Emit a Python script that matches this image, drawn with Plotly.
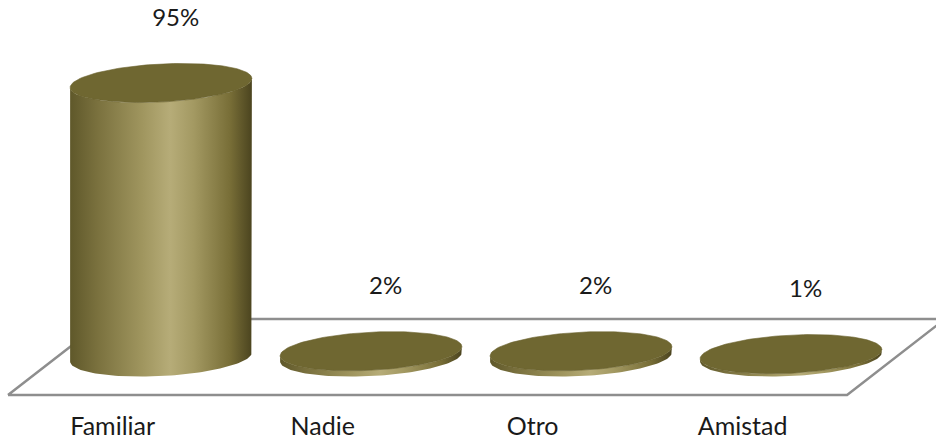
import numpy as np
import plotly.graph_objects as go

# Data
categories = ["Familiar", "Nadie", "Otro", "Amistad"]
values = [95, 2, 2, 1]
value_labels = ["95%", "2%", "2%", "1%"]

# Plot geometry (pixels per axis unit) used to keep the ellipses round on screen
W, H = 936, 440
PX_X = 210.0       # pixels per category step
PX_Y = 2.884       # pixels per percent
X0_PX = 161.0      # pixel position of the first category centre
Y0_PX = 357.0      # pixel position of the zero level (from top)

RX, RY = 91.0, 19.0            # cylinder ellipse radii in pixels
TILT = np.deg2rad(3.0)         # slight perspective tilt of the ellipses

BODY_SCALE = [
    [0.00, "#5f582a"],
    [0.15, "#7a713e"],
    [0.40, "#a0965f"],
    [0.55, "#b6ac78"],
    [0.68, "#a39962"],
    [0.88, "#786e37"],
    [1.00, "#4b441f"],
]
TOP_COLOR = "#6f6731"
FLOOR_LINE = "#8e8e8e"
FONT = "Lato, Open Sans, sans-serif"


def ellipse(cx, cy, t):
    """Points of a tilted ellipse centred at (cx, cy) in data units."""
    ex = RX * np.cos(t) * np.cos(TILT) - RY * np.sin(t) * np.sin(TILT)
    ey = RX * np.cos(t) * np.sin(TILT) + RY * np.sin(t) * np.cos(TILT)
    return cx + ex / PX_X, cy + ey / PX_Y


fig = go.Figure()

# Floor of the 3D plot area (parallelogram)
depth = 13.18                 # half depth of the floor, in percent units
skew = 98.0 / PX_X            # horizontal shift between front and back edges
x_lo, x_hi = -0.7286, 3.267
floor_x = [x_lo, x_hi, x_hi + skew, x_lo + skew, x_lo]
floor_y = [-depth, -depth, depth, depth, -depth]
fig.add_trace(go.Scatter(
    x=floor_x, y=floor_y, mode="lines", fill="toself", fillcolor="white",
    line=dict(color=FLOOR_LINE, width=2.5), hoverinfo="skip", showlegend=False,
))

t_front = np.linspace(np.pi, 2 * np.pi, 80)
t_full = np.linspace(0, 2 * np.pi, 160)

for i, (cat, v) in enumerate(zip(categories, values)):
    # Cylinder side: front half of top ellipse + front half of base ellipse
    tx, ty = ellipse(i, v, t_front)
    bx, by = ellipse(i, 0, t_front[::-1])
    body_x = np.concatenate([tx, bx, tx[:1]])
    body_y = np.concatenate([ty, by, ty[:1]])
    fig.add_trace(go.Scatter(
        x=body_x, y=body_y, mode="lines", fill="toself",
        line=dict(width=0, color="rgba(0,0,0,0)"),
        fillgradient=dict(type="horizontal", colorscale=BODY_SCALE),
        hoverinfo="skip", showlegend=False,
    ))
    # Cylinder top face
    ex, ey = ellipse(i, v, t_full)
    fig.add_trace(go.Scatter(
        x=ex, y=ey, mode="lines", fill="toself", fillcolor=TOP_COLOR,
        line=dict(width=0.6, color="#6a622e"), hoverinfo="skip", showlegend=False,
    ))

# Value labels above each cylinder
fig.add_trace(go.Scatter(
    x=[i + 0.07 for i in range(len(values))],
    y=[v + 22 for v in values],
    mode="text", text=value_labels,
    textfont=dict(family=FONT, size=24, color="#1a1a1a"),
    hoverinfo="skip", showlegend=False,
))

# Category labels along the front edge
fig.add_trace(go.Scatter(
    x=[i - 0.23 for i in range(len(categories))],
    y=[-24.8] * len(categories),
    mode="text", text=categories,
    textfont=dict(family=FONT, size=25, color="#1a1a1a"),
    hoverinfo="skip", showlegend=False,
))

fig.update_layout(
    width=W, height=H,
    margin=dict(l=0, r=0, t=0, b=0),
    paper_bgcolor="white", plot_bgcolor="white",
    xaxis=dict(range=[-X0_PX / PX_X, (W - X0_PX) / PX_X], visible=False, fixedrange=True),
    yaxis=dict(range=[-(H - Y0_PX) / PX_Y, Y0_PX / PX_Y], visible=False, fixedrange=True),
    showlegend=False,
)

fig.write_html("out.html")
